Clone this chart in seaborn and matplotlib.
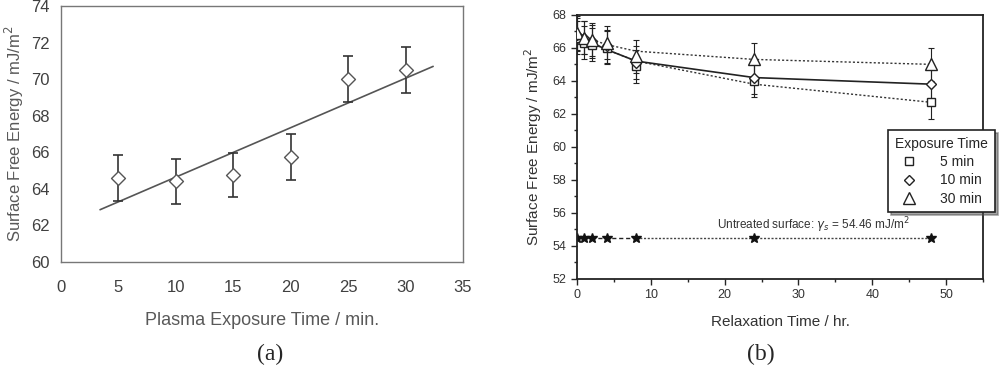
import numpy as np
import pandas as pd
import matplotlib
matplotlib.use('Agg')
import matplotlib.pyplot as plt
from matplotlib.lines import Line2D
from matplotlib.ticker import MultipleLocator
import seaborn as sns

# (a) surface free energy vs plasma exposure time
exposure_min = [5, 10, 15, 20, 25, 30]
sfe_a = [64.6, 64.4, 64.75, 65.75, 70.0, 70.5]
err_a = [1.25, 1.25, 1.2, 1.25, 1.25, 1.25]

# (b) surface free energy vs relaxation time
relax_hr = [0, 1, 2, 4, 8, 24, 48]
sfe_5min = [66.6, 66.3, 66.2, 66.0, 64.9, 64.0, 62.7]
sfe_10min = [66.8, 66.6, 66.4, 66.1, 65.1, 64.2, 63.8]
sfe_30min = [66.9, 66.6, 66.5, 66.3, 65.5, 65.3, 65.0]
err_b = [1.0, 1.0, 1.0, 1.0, 1.0, 1.0, 1.0]
fit_5min = [66.9, 66.6, 66.3, 65.9, 65.2, 63.8, 62.7]
fit_10min = [66.8, 66.5, 66.3, 65.9, 65.2, 64.2, 63.8]
fit_30min = [66.9, 66.7, 66.5, 66.2, 65.8, 65.3, 65.0]
untreated = 54.46

sns.set_style("white")
plt.rcParams['font.family'] = ['Liberation Sans', 'DejaVu Sans']

fig = plt.figure(figsize=(10, 3.71), dpi=100)
ax1 = fig.add_axes([0.061, 0.294, 0.402, 0.690])
ax2 = fig.add_axes([0.577, 0.248, 0.406, 0.712])

# ---- panel (a)
gray = '#595959'
df_a = pd.DataFrame({'x': exposure_min, 'y': sfe_a})
slope, icpt = np.polyfit(df_a['x'], df_a['y'], 1)
xs = np.array([3.4, 32.4])
sns.lineplot(x=xs, y=slope * xs + icpt, ax=ax1, color='#555555', lw=1.2)
ax1.errorbar(exposure_min, sfe_a, yerr=err_a, fmt='none', ecolor='#333333',
             elinewidth=1.2, capsize=3.5, capthick=1.2)
sns.scatterplot(data=df_a, x='x', y='y', ax=ax1, marker='D', s=50,
                facecolor='white', edgecolor='#555555', linewidth=1.0, zorder=5)
ax1.set_xlim(0, 35)
ax1.set_ylim(60, 74)
ax1.set_xticks(range(0, 36, 5))
ax1.set_yticks(range(60, 75, 2))
for s in ax1.spines.values():
    s.set_color('#777777')
    s.set_linewidth(1.0)
ax1.tick_params(axis='both', direction='out', length=4, width=1, color='#777777',
                labelsize=12, labelcolor='#404040')
ax1.tick_params(axis='x', pad=9)
ax1.tick_params(axis='y', pad=4)
ax1.set_xlabel('Plasma Exposure Time / min.', fontsize=13, color=gray, labelpad=12)
ax1.set_ylabel('Surface Free Energy / mJ/m$^2$', fontsize=12, color=gray, labelpad=4)

# ---- panel (b)
for vals in (sfe_5min, sfe_10min, sfe_30min):
    ax2.errorbar(relax_hr, vals, yerr=err_b, fmt='none', ecolor='#222222',
                 elinewidth=0.8, capsize=2, capthick=0.8)
sns.lineplot(x=relax_hr, y=fit_5min, ax=ax2, color='#333333', lw=1.0, linestyle=(0, (1.5, 1.5)))
sns.lineplot(x=relax_hr, y=fit_10min, ax=ax2, color='#222222', lw=1.2)
sns.lineplot(x=relax_hr, y=fit_30min, ax=ax2, color='#333333', lw=1.0, linestyle=(0, (1.5, 1.5)))
mk = dict(markerfacecolor='white', markeredgecolor='#222222', markeredgewidth=1.0,
          linestyle='none', zorder=5)
ax2.plot(relax_hr, sfe_5min, marker='s', markersize=6, **mk)
ax2.plot(relax_hr, sfe_10min, marker='D', markersize=5, **mk)
ax2.plot(relax_hr, sfe_30min, marker='^', markersize=8, **mk)

base = [untreated] * len(relax_hr)
ax2.plot(relax_hr[:5], base[:5], color='#222222', lw=1.0, linestyle=(0, (3, 2)))
ax2.plot(relax_hr[4:], base[4:], color='#444444', lw=1.0, linestyle=(0, (1.5, 1.2)))
ax2.plot(relax_hr, base, linestyle='none', marker='*', markersize=7, color='#111111')
ax2.text(19, 55.25, 'Untreated surface: $\\gamma_s$ = 54.46 mJ/m$^2$',
         fontsize=8.5, color='#333333', va='center')

ax2.set_xlim(0, 55)
ax2.set_ylim(52, 68)
ax2.xaxis.set_major_locator(MultipleLocator(10))
ax2.xaxis.set_minor_locator(MultipleLocator(5))
ax2.yaxis.set_major_locator(MultipleLocator(2))
ax2.yaxis.set_minor_locator(MultipleLocator(1))
for s in ax2.spines.values():
    s.set_color('#222222')
    s.set_linewidth(1.3)
ax2.tick_params(axis='both', which='major', direction='out', length=4, width=1,
                labelsize=9, labelcolor='#333333', bottom=True, left=True)
ax2.tick_params(axis='both', which='minor', direction='out', length=2, width=1,
                bottom=True, left=True)
ax2.set_xlabel('Relaxation Time / hr.', fontsize=11, color='#333333', labelpad=10)
ax2.set_ylabel('Surface Free Energy / mJ/m$^2$', fontsize=11, color='#333333', labelpad=6)

handles = [
    Line2D([], [], marker='s', markersize=6, markerfacecolor='white', markeredgecolor='#222222', linestyle='none'),
    Line2D([], [], marker='D', markersize=5, markerfacecolor='white', markeredgecolor='#222222', linestyle='none'),
    Line2D([], [], marker='^', markersize=8, markerfacecolor='white', markeredgecolor='#222222', linestyle='none'),
]
leg = ax2.legend(handles, ['5 min', '10 min', '30 min'], title='Exposure Time',
                 loc='upper left', bbox_to_anchor=(0.75, 0.59), frameon=True,
                 fancybox=False, shadow=True, fontsize=10, title_fontsize=10,
                 handletextpad=1.2, borderpad=0.5, labelspacing=0.3)
leg.get_frame().set_edgecolor('#222222')
leg.get_frame().set_linewidth(1.2)
leg._legend_box.align = 'left'

# captions
fig.text(0.27, 0.045, '(a)', fontsize=17, family='Liberation Serif', ha='center', va='center')
fig.text(0.761, 0.045, '(b)', fontsize=17, family='Liberation Serif', ha='center', va='center')

fig.savefig('out.png', dpi=100, facecolor='white')
